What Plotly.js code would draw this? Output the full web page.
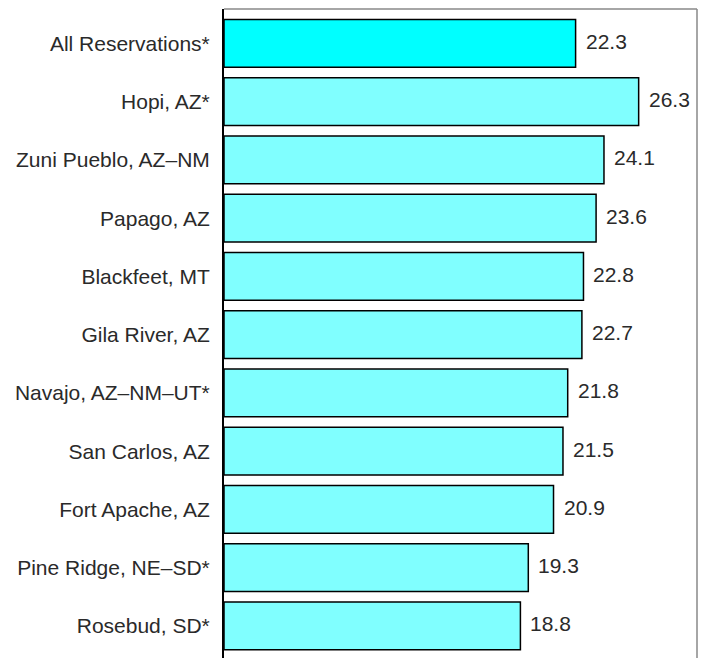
<!DOCTYPE html>
<html><head><meta charset="utf-8">
<script src="https://cdn.plot.ly/plotly-3.0.1.min.js"></script>
<style>html,body{margin:0;padding:0;background:#fff}</style>
</head><body>
<div id="chart" style="width:703px;height:658px"></div>
<script>
const categories = ["All Reservations*","Hopi, AZ*","Zuni Pueblo, AZ\u2013NM","Papago, AZ","Blackfeet, MT","Gila River, AZ","Navajo, AZ\u2013NM\u2013UT*","San Carlos, AZ","Fort Apache, AZ","Pine Ridge, NE\u2013SD*","Rosebud, SD*"];
const values = [22.3,26.3,24.1,23.6,22.8,22.7,21.8,21.5,20.9,19.3,18.8];
const labels = values.map(v => v.toFixed(1));
const colors = categories.map((c,i) => i === 0 ? "#00FFFF" : "#80FFFF");

const FONT = "Liberation Sans, Arial, Helvetica, sans-serif";
const trace = {
  type: "bar", orientation: "h",
  y: categories, x: values,
  marker: {color: colors, line: {color: "#000", width: 1.5}},
  width: 0.82,
  hoverinfo: "none"
};
const annotations = categories.map((c,i) => ({
  x: values[i], y: c, xref: "x", yref: "y",
  text: labels[i], showarrow: false, xanchor: "left", xshift: 8, yshift: 2,
  font: {family: FONT, size: 21, color: "#2a2a2a"}
}));
const layout = {
  width: 703, height: 658,
  margin: {l: 224, r: 6, t: 9, b: 0},
  paper_bgcolor: "#fff", plot_bgcolor: "#fff",
  showlegend: false,
  xaxis: {range: [0, 30], showgrid: false, zeroline: false, showticklabels: false, ticks: "", showline: false, fixedrange: true},
  yaxis: {type: "category", range: [10.55, -0.59], showgrid: false, zeroline: false,
          showline: true, linecolor: "#000", linewidth: 2, ticks: "", ticklabelstandoff: 8,
          tickfont: {family: FONT, size: 21, color: "#2a2a2a"}},
  shapes: [
    {type: "line", xref: "paper", yref: "paper", x0: 0, x1: 1, y0: 1, y1: 1, line: {color: "#888", width: 1.5}},
    {type: "line", xref: "paper", yref: "paper", x0: 1, x1: 1, y0: 0, y1: 1, line: {color: "#888", width: 1.5}}
  ],
  annotations: annotations
};
Plotly.newPlot("chart", [trace], layout, {displayModeBar: false, staticPlot: true});
</script>
</body></html>
